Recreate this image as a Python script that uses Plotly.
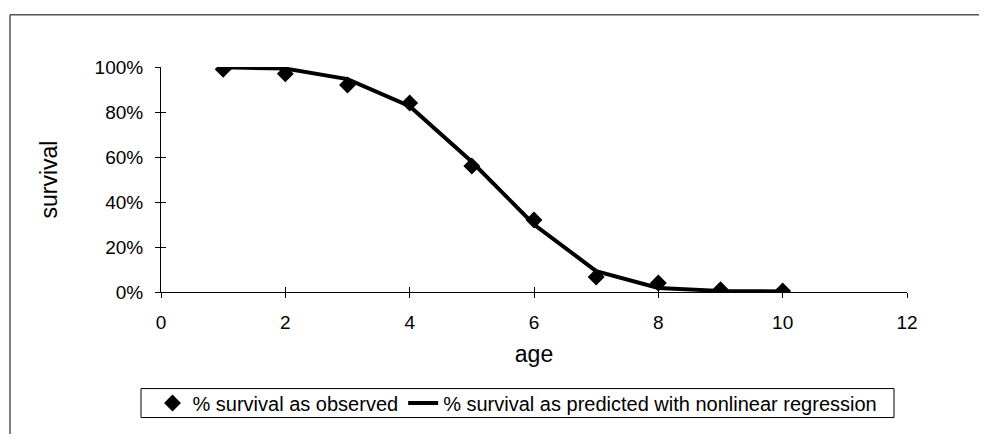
import plotly.graph_objects as go

# ── Data ───────────────────────────────────────────────────────────────────────
ages = [1, 2, 3, 4, 5, 6, 7, 8, 9, 10]
observed = [0.99, 0.97, 0.92, 0.84, 0.56, 0.32, 0.067, 0.04, 0.01, 0.005]
predicted = [0.999, 0.993, 0.946, 0.826, 0.579, 0.30, 0.093, 0.018, 0.005, 0.002]

x_ticks = [0, 2, 4, 6, 8, 10, 12]
y_ticks = [0, 0.2, 0.4, 0.6, 0.8, 1.0]

# ── Layout constants (page pixels; the html body adds an 8px margin) ──────────
PAGE_W, PAGE_H = 987, 442
OFF = 8
W, H = PAGE_W - 2 * OFF, PAGE_H - 2 * OFF
PLOT_L, PLOT_R, PLOT_T, PLOT_B = 161, 907, 67, 300
L, R = PLOT_L - OFF, W - (PLOT_R - OFF)
T, B = PLOT_T - OFF, H - (PLOT_B - OFF)
LEG_L, LEG_R, LEG_T, LEG_B = 141, 894, 400, 430
FONT = "Liberation Sans, Arial, sans-serif"
FS = 19


def px_x(p):
    return (p - PLOT_L) / (PLOT_R - PLOT_L)


def px_y(p):
    return (PLOT_B - p) / (PLOT_B - PLOT_T)


fig = go.Figure()

fig.add_trace(go.Scatter(
    x=ages, y=observed, mode="markers", name="% survival as observed",
    marker=dict(symbol="diamond", size=13, color="black"),
))
fig.add_trace(go.Scatter(
    x=ages, y=predicted, mode="lines",
    name="% survival as predicted with nonlinear regression",
    line=dict(color="black", width=4),
))

axis_common = dict(showgrid=False, zeroline=False, showline=True,
                   linecolor="black", linewidth=1, tickcolor="black",
                   ticklen=5, tickwidth=1)

fig.update_layout(
    width=W, height=H,
    margin=dict(l=L, r=R, t=T, b=B),
    paper_bgcolor="white", plot_bgcolor="white",
    font=dict(family=FONT, size=FS, color="black"),
    showlegend=True,
    legend=dict(orientation="h", x=px_x((LEG_L + LEG_R) / 2), xanchor="center",
                y=px_y((LEG_T + LEG_B) / 2), yanchor="middle",
                bgcolor="rgba(0,0,0,0)", borderwidth=0,
                font=dict(size=20), itemwidth=30, tracegroupgap=0),
    xaxis=dict(range=[0, 12], tickvals=x_ticks, ticks="outside",
               ticklabelstandoff=8,
               title=dict(text="age", standoff=14), **axis_common),
    yaxis=dict(range=[0, 1], tickvals=y_ticks, tickformat=".0%",
               ticks="outside", ticklabelstandoff=8,
               title=dict(text="survival", standoff=30),
               **axis_common),
    # overlaid axes only to draw the inner half of the crossing ticks
    xaxis2=dict(range=[0, 12], tickvals=x_ticks, ticks="inside",
                showticklabels=False, overlaying="x", side="bottom",
                **axis_common),
    yaxis2=dict(range=[0, 1], tickvals=y_ticks, ticks="inside",
                showticklabels=False, overlaying="y", side="left",
                **axis_common),
)

# invisible trace to activate the overlay axes
fig.add_trace(go.Scatter(x=[0], y=[0], xaxis="x2", yaxis="y2", mode="markers",
                         marker=dict(opacity=0), showlegend=False,
                         hoverinfo="skip"))

# chart border (runs off the right and bottom of the picture)
fig.add_shape(type="line", xref="paper", yref="paper",
              x0=px_x(10), x1=px_x(PAGE_W + 20), y0=px_y(13), y1=px_y(13),
              line=dict(color="black", width=1))
fig.add_shape(type="line", xref="paper", yref="paper",
              x0=px_x(10), x1=px_x(10), y0=px_y(13), y1=px_y(PAGE_H + 20),
              line=dict(color="black", width=1))

# legend frame
fig.add_shape(type="rect", xref="paper", yref="paper",
              x0=px_x(LEG_L), x1=px_x(LEG_R), y0=px_y(LEG_T), y1=px_y(LEG_B),
              line=dict(color="black", width=1))

fig.write_html("out.html")
